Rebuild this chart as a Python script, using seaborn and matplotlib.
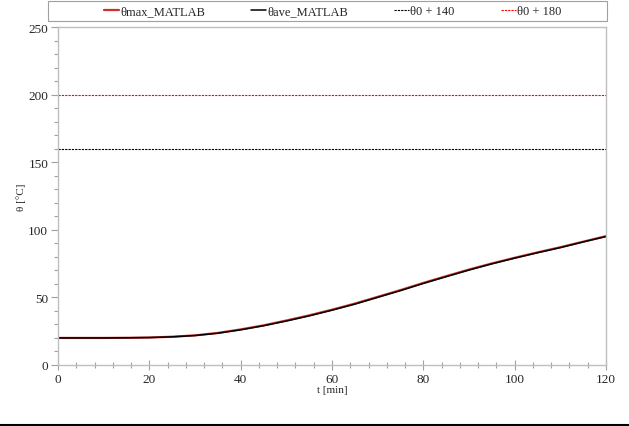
import matplotlib
matplotlib.use("Agg")
import matplotlib.pyplot as plt
from matplotlib.lines import Line2D
from matplotlib.patches import Rectangle
from matplotlib.ticker import MultipleLocator
import seaborn as sns
import numpy as np

# time axis [min] and temperatures
t_min = [0, 5, 10, 15, 20, 25, 30, 35, 40, 45, 50, 55, 60,
         65, 70, 75, 80, 85, 90, 95, 100, 105, 110, 115, 120]
theta_ave = [20.0, 20.0, 20.0, 20.1, 20.3, 20.8, 21.8, 23.5, 26.0, 29.0, 32.5, 36.3, 40.5,
             45.0, 50.0, 55.0, 60.3, 65.3, 70.2, 74.8, 79.0, 83.0, 86.8, 91.0, 95.0]
theta_max = [20.0, 20.0, 20.0, 20.1, 20.3, 20.9, 21.9, 23.7, 26.3, 29.3, 32.9, 36.7, 40.9,
             45.4, 50.4, 55.4, 60.7, 65.7, 70.6, 75.1, 79.3, 83.3, 87.1, 91.2, 95.3]
theta0 = 20
limit_low = theta0 + 140
limit_high = theta0 + 180

sns.set_style("white")
plt.rcParams['font.family'] = ['Liberation Serif', 'DejaVu Serif']
plt.rcParams['font.size'] = 9.5

fig = plt.figure(figsize=(6.29, 4.27), dpi=100)
ax = fig.add_axes([0.0922, 0.1429, 0.8712, 0.7915])

sns.lineplot(x=t_min, y=theta_max, ax=ax, color='#c83232', linewidth=1.6, label='θmax_MATLAB')
sns.lineplot(x=t_min, y=theta_ave, ax=ax, color='black', linewidth=1.1, label='θave_MATLAB')
ax.axhline(limit_low, color='black', linestyle=(0, (2, 1)), linewidth=0.8, label='θ0 + 140')
ax.axhline(limit_high, color='red', linestyle=(0, (2, 1)), linewidth=0.8, label='θ0 + 180')

ax.set_xlim(0, 120)
ax.set_ylim(0, 250)
ax.xaxis.set_major_locator(MultipleLocator(20))
ax.xaxis.set_minor_locator(MultipleLocator(4))
ax.yaxis.set_major_locator(MultipleLocator(50))
ax.yaxis.set_minor_locator(MultipleLocator(10))
ax.tick_params(which='both', bottom=True, left=True, color='#a0a0a0', width=0.8, pad=2)
ax.tick_params(axis='x', which='major', direction='inout', length=7)
ax.tick_params(axis='x', which='minor', direction='inout', length=4)
ax.tick_params(axis='y', which='major', direction='out', length=5)
ax.tick_params(axis='y', which='minor', direction='out', length=3)
for side in ['left', 'right', 'top', 'bottom']:
    ax.spines[side].set_color('#bfbfbf')
    ax.spines[side].set_linewidth(1.0)

ax.set_xlabel('t [min]', labelpad=0, fontsize=8)
ax.set_ylabel('θ [°C]', fontsize=8)
ax.yaxis.set_label_coords(-0.058, 0.5)

# legend sits in a grey box spanning the top of the figure
fig.add_artist(Rectangle((48 / 629, 1 - 22 / 427), 559 / 629, 20 / 427,
                         transform=fig.transFigure, fill=False,
                         edgecolor='#a0a0a0', linewidth=0.8))
leg = ax.legend(loc='center left', bbox_to_anchor=(104 / 629, 1 - 12 / 427),
                bbox_transform=fig.transFigure, ncol=4, frameon=False, fontsize=9,
                handlelength=1.2, handletextpad=0.08, columnspacing=3.7,
                borderpad=0, borderaxespad=0)

fig.add_artist(Line2D([0, 1], [0.003, 0.003], color='black', linewidth=1.5))

fig.savefig('out.png', dpi=100)
